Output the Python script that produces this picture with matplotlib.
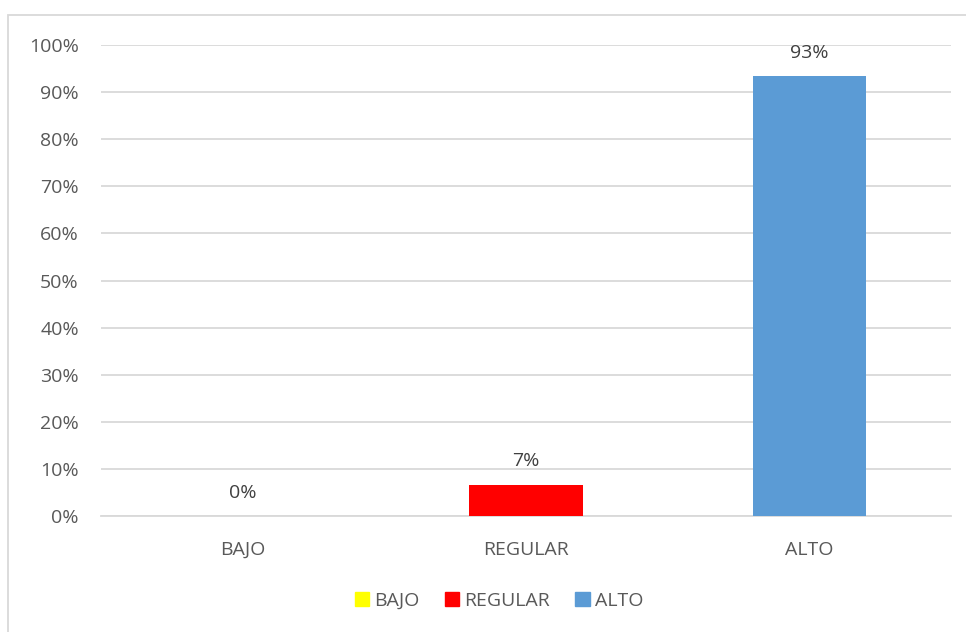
import matplotlib
matplotlib.use("Agg")
import matplotlib.pyplot as plt
from matplotlib.patches import Rectangle

categories = ["BAJO", "REGULAR", "ALTO"]
values = [0.0, 6.67, 93.33]
labels = ["0%", "7%", "93%"]
colors = ["#FFFF00", "#FF0000", "#5B9BD5"]
yticks = list(range(0, 101, 10))

plt.rcParams['font.family'] = ['Open Sans', 'DejaVu Sans']
txt = "#595959"

fig = plt.figure(figsize=(9.66, 6.32), dpi=100)
ax = fig.add_axes([101/966, 116/632, 850/966, 471/632])

x = range(len(categories))
bars = ax.bar(x, values, width=0.4, color=colors, zorder=3)
for xi, v, lab in zip(x, values, labels):
    ax.text(xi, v + 3.0, lab, ha="center", va="bottom", fontsize=14, color="#404040")

ax.set_xlim(-0.5, 2.5)
ax.set_ylim(0, 100)
ax.set_yticks(yticks)
ax.set_yticklabels(["%d%%" % t for t in yticks])
ax.set_xticks(list(x))
ax.set_xticklabels(categories)
ax.tick_params(axis="both", length=0, labelsize=14, colors=txt)
ax.tick_params(axis="y", pad=16)
ax.tick_params(axis="x", pad=18)
ax.grid(axis="y", color="#D9D9D9", linewidth=1.3, zorder=0)
for s in ["top", "right", "left"]:
    ax.spines[s].set_visible(False)
ax.spines["bottom"].set_color("#D9D9D9")
ax.spines["bottom"].set_linewidth(1.3)

handles = [Rectangle((0, 0), 1, 1, color=c) for c in colors]
fig.legend(handles, categories, loc="center", bbox_to_anchor=(499/966, 1 - 601/632),
           ncol=3, frameon=False, fontsize=14, labelcolor=txt, handlelength=0.75,
           handleheight=0.75, handletextpad=0.25, columnspacing=1.3)

fig.add_artist(Rectangle((8/966, -0.01), 1.0, 1 - 15/632 + 0.01, transform=fig.transFigure,
                         fill=False, edgecolor="#D9D9D9", linewidth=1.3))

fig.savefig("out.png", dpi=100)
